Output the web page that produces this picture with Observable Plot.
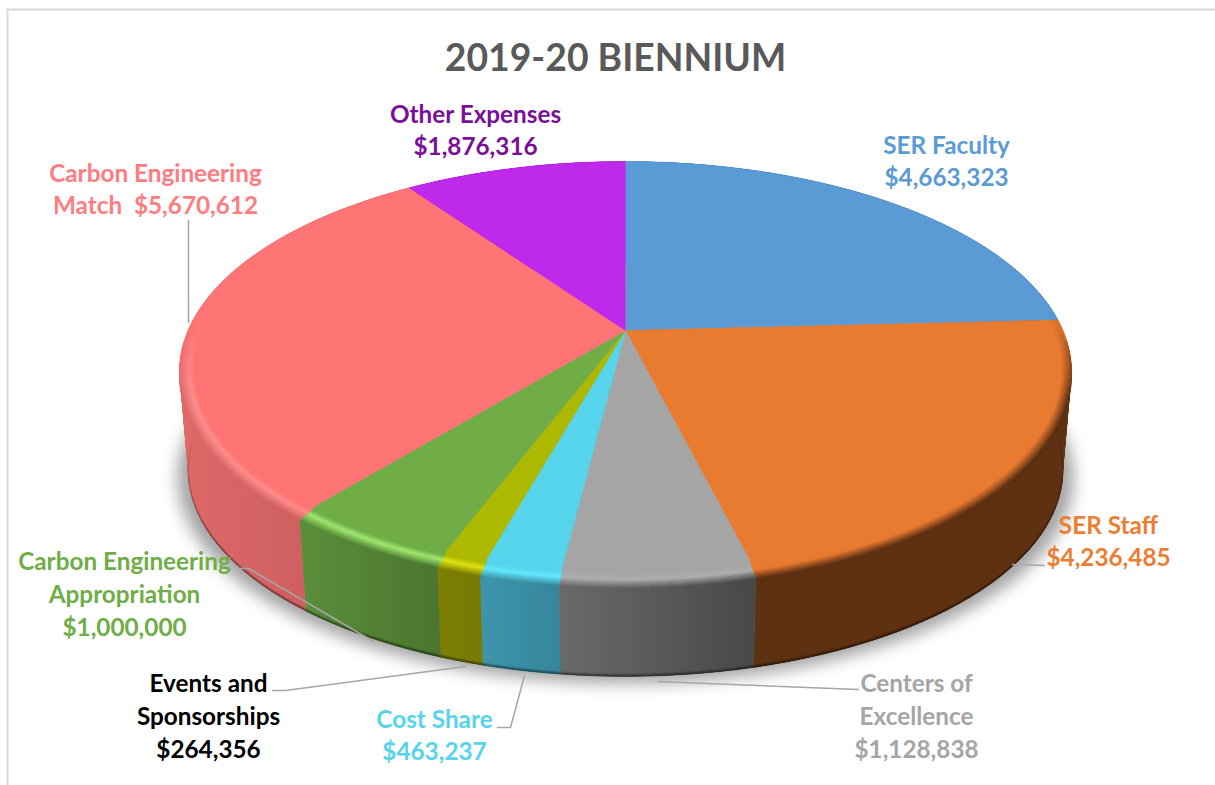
<!DOCTYPE html>
<html>
<head>
<meta charset="utf-8">
<style>
html,body{margin:0;padding:0;background:#fff;overflow:hidden}
svg{display:block}
.pie-shadow{filter:blur(8px)}
</style>
<script src="https://cdn.jsdelivr.net/npm/d3@7"></script>
<script src="https://cdn.jsdelivr.net/npm/@observablehq/plot@0.6"></script>
</head>
<body>
<div id="chart"></div>
<script>
// ---- data ----
const chartTitle = "2019-20 BIENNIUM";
const categories = ["SER Faculty","SER Staff","Centers of Excellence","Cost Share","Events and Sponsorships","Carbon Engineering Appropriation","Carbon Engineering Match","Other Expenses"];
const values = [4663323,4236485,1128838,463237,264356,1000000,5670612,1876316];
const labelPrefixes = ["SER Faculty\n","SER Staff\n","Centers of\nExcellence\n","Cost Share\n","Events and\nSponsorships\n","Carbon Engineering\nAppropriation\n","Carbon Engineering\nMatch\u00a0 ","Other Expenses\n"];
// ---- colours ----
const faceColors = ["#5B9BD5","#E97B31","#A5A5A5","#56D4EC","#ADB800","#70AD47","#FF7474","#BE29EC"];
const labelColors = ["#5B9BD5","#ED7D31","#A5A5A5","#56D4EC","#000000","#70AD47","#FF7C80","#7A0F9A"];
const highlightColors = ["#5B9BD5","#E97B31","#B0B0B0","#64EAFF","#E2E614","#A2EA72","#FF8E8E","#BE29EC"];
// wall shading, left end then right end
const wallLeft  = ["#2F5F8A","#5E3113","#6A6A6A","#3E95AC","#7D8004","#5A8F3A","#DE6969","#7A1A98"];
const wallRight = ["#2F5F8A","#5E3113","#484848","#35869A","#777A04","#4C762F","#C25858","#7A1A98"];
// ---- layout ----
const W = 1215, H = 785;
const pie = {cx:625, cy:330, R:437.5, S:202, p:0.195, depth:100, shrink:0.02};
const font = "Lato, Carlito, sans-serif";
const labelX = [946,1108,916,434,208,124,155,475];
const labelY = [159,539,714,733,714,592,187,128];
const leaders = [
  [[1012,564],[1044,565]],
  [[657,681],[858,689]],
  [[524,675],[510,727],[497,727]],
  [[465,666],[285,690],[272,690]],
  [[373,641],[248,568],[238,568]],
  [[188,322],[188,220]]
];

// ---- geometry, derived from the values ----
const arcs = d3.pie().sort(null)(values);
const clamp = (v,a,b)=>Math.max(a,Math.min(b,v));
function project(t, r=1, d=0){
  const u=r*Math.sin(t), v=-r*Math.cos(t), w=1-pie.p*v, s=1-pie.shrink*d;
  return {x:pie.cx+s*pie.R*u/w, y:pie.cy+s*pie.S*v/w+d*pie.depth};
}
function sweep(a0,a1,step=Math.PI/180){
  const n=Math.max(1,Math.ceil((a1-a0)/step));
  return d3.range(n+1).map(i=>a0+(a1-a0)*i/n);
}
const faces = arcs.flatMap((a,i)=>[
  {name:categories[i],...project(0,0,0)},
  ...sweep(a.startAngle,a.endAngle).map(t=>({name:categories[i],...project(t)}))
]);
// each wall is a run of overlapping quads, so the fold at the silhouette stays filled and no seams show
const walls = arcs.map(a=>{
  const ts=sweep(a.startAngle,a.endAngle);
  return ts.slice(1).flatMap((t,j)=>{
    const next=ts[Math.min(j+3,ts.length-1)];
    return [project(ts[j],1,0),project(next,1,0),project(next,1,1),project(ts[j],1,1)].map(p=>({id:j,...p}));
  });
});
const shadow = sweep(0,2*Math.PI).map(t=>{const p=project(t,1,1);return {x:pie.cx+(p.x-pie.cx)*1.025,y:p.y+7};});

// rim bevel as thin strips so it stays crisp at slice boundaries
function tauPoint(t,tau){
  const front=Math.max(0,-Math.cos(t));
  if(tau<.8){
    const p=project(t,.96+.04*tau/.8,0);
    return {x:p.x,y:p.y+7*front*Math.sqrt(tau/.8)};
  }
  const p=project(t,1,(tau-.8)/.2*.04);
  return {x:p.x,y:p.y+7*front};
}
const sliceXs = arcs.map(a=>d3.extent(sweep(a.startAngle,a.endAngle),t=>project(t).x));
const wallAt=(i,x)=>d3.interpolateRgb(wallLeft[i],wallRight[i])(clamp((x-sliceXs[i][0])/(sliceXs[i][1]-sliceXs[i][0]),0,1));
function rimColor(i,x,tau,f){
  const wall=wallAt(i,x), base=faceColors[i], hl=highlightColors[i];
  let c;
  if(tau<.15) c=base;
  else if(tau<.36) c=d3.interpolateRgb(base,hl)((tau-.15)/.21);
  else if(tau<.8) c=d3.interpolateRgb(hl,wall)((tau-.36)/.44);
  else c=wall;
  return d3.interpolateRgb(base,c)(f);
}
const rimRows=[], N=12; let sid=0;
arcs.forEach((a,i)=>{
  const ts=sweep(a.startAngle,a.endAngle,2*Math.PI/180);
  for(let j=0;j<ts.length-1;j++){
    const t0=ts[j],t1=ts[j+1],tm=(t0+t1)/2,v=-Math.cos(tm),x=project(tm).x;
    const f=clamp((v+.1)/.4,0,1);
    if(f>0) for(let k=0;k<N;k++){
      const ta=k/N,tb=(k+1)/N,tc=(ta+tb)/2;
      if(tb>.8&&v<.05) continue;        // the lower lip only exists on the visible front
      const c=rimColor(i,x,tc,f),id=sid++;
      [tauPoint(t0,ta),tauPoint(t1,ta),tauPoint(t1,tb),tauPoint(t0,tb)].forEach(p=>rimRows.push({id,color:c,...p}));
    }
    const dark=.5*clamp(v/.5,0,1);
    if(dark>0) for(let k=0;k<4;k++){
      const da=.97+k*.0075,db=da+.0075,id=sid++;
      const c=d3.interpolateRgb(wallAt(i,x),"#000")(dark*(k+.5)/4);
      [project(t0,1,da),project(t1,1,da),project(t1,1,db),project(t0,1,db)].forEach(p=>rimRows.push({id,color:c,...p}));
    }
  }
});
const leaderRows = leaders.flatMap((l,id)=>l.map(([x,y])=>({id,x,y})));
const labels = categories.map((name,i)=>({
  text:labelPrefixes[i]+d3.format("$,")(values[i]),
  x:labelX[i],y:labelY[i],color:labelColors[i]
}));
function defs(){
  const NS="http://www.w3.org/2000/svg", d=document.createElementNS(NS,"defs");
  arcs.forEach((a,i)=>{
    const g=document.createElementNS(NS,"linearGradient");
    g.setAttribute("id","wall"+i);g.setAttribute("gradientUnits","userSpaceOnUse");
    g.setAttribute("x1",sliceXs[i][0]);g.setAttribute("x2",sliceXs[i][1]);g.setAttribute("y1",0);g.setAttribute("y2",0);
    [[0,wallLeft[i]],[1,wallRight[i]]].forEach(([o,c])=>{
      const s=document.createElementNS(NS,"stop");s.setAttribute("offset",o);s.setAttribute("stop-color",c);g.appendChild(s);
    });
    d.appendChild(g);
  });
  return d;
}
const chart = Plot.plot({
  width:W,height:H,margin:0,
  x:{domain:[0,W],range:[0,W],axis:null},
  y:{domain:[0,H],range:[0,H],axis:null},
  color:{domain:categories,range:faceColors},
  style:{background:"#fff"},
  marks:[
    defs,
    Plot.ruleX([7],{y1:9,y2:H,stroke:"#d9d9d9",strokeWidth:2}),
    Plot.ruleY([9],{x1:6,x2:W,stroke:"#d9d9d9",strokeWidth:2}),
    Plot.line(shadow,{x:"x",y:"y",fill:"#000",fillOpacity:.36,stroke:"none",className:"pie-shadow"}),
    ...walls.map((w,i)=>Plot.line(w,{x:"x",y:"y",z:"id",fill:`url(#wall${i})`,stroke:"none"})),
    Plot.line(faces,{x:"x",y:"y",z:"name",fill:"name",stroke:"name",strokeWidth:.5}),
    Plot.line(rimRows,{x:"x",y:"y",z:"id",fill:{value:"color",scale:null},stroke:{value:"color",scale:null},strokeWidth:.5}),
    Plot.line(leaderRows,{x:"x",y:"y",z:"id",stroke:"#a6a6a6",strokeWidth:1.5,strokeLinejoin:"miter"}),
    Plot.text(labels,{x:"x",y:"y",text:"text",fill:{value:"color",scale:null},fontFamily:font,fontWeight:700,fontSize:24.3,lineHeight:1.35,textAnchor:"middle"}),
    Plot.text([chartTitle],{x:615,y:58.5,text:d=>d,fill:"#595959",fontFamily:font,fontWeight:700,fontSize:37.3,textAnchor:"middle"})
  ]
});
document.getElementById("chart").appendChild(chart);
</script>
</body>
</html>
